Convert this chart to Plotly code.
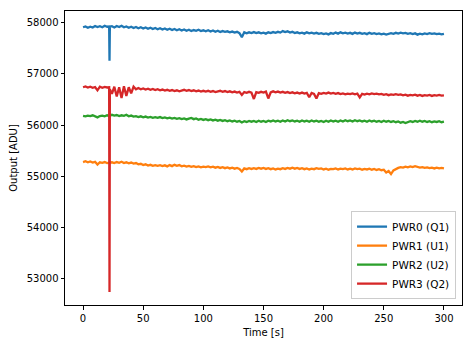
import plotly.graph_objects as go

# Sample times [s]: 2 s cadence, with extra samples around the glitch at 22 s
time_s = list(range(0, 21, 2)) + [21.7, 22.0, 22.3] + list(range(24, 301, 2))

pwr0_q1 = [
    57915, 57930, 57905, 57925, 57910, 57940, 57920, 57935, 57915, 57945, 57925,
    57930, 57260, 57925,
    57935, 57910, 57940, 57920, 57945, 57915, 57930, 57905, 57925, 57900, 57920, 57895, 57915, 57890, 57910, 57885, 57905, 57880, 57900,
    57875, 57895, 57870, 57890, 57865, 57885, 57860, 57880, 57855, 57875, 57850, 57870, 57845, 57865, 57840, 57860, 57845, 57865, 57840, 57855,
    57835, 57855, 57830, 57850, 57825, 57845, 57820, 57840, 57825, 57835, 57815, 57830, 57810, 57825, 57800, 57720, 57815, 57795, 57815, 57800,
    57820, 57800, 57815, 57795, 57810, 57790, 57815, 57800, 57820, 57805, 57825, 57810, 57840, 57820, 57835, 57810, 57825, 57800, 57815, 57795,
    57810, 57790, 57815, 57795, 57810, 57790, 57805, 57785, 57800, 57780, 57795, 57775, 57800, 57785, 57810, 57790, 57815, 57795, 57810, 57790,
    57805, 57785, 57810, 57790, 57805, 57785, 57800, 57780, 57805, 57785, 57800, 57780, 57795, 57775, 57790, 57770, 57785, 57800, 57785, 57805,
    57790, 57810, 57795, 57805, 57785, 57800, 57780, 57795, 57770, 57790, 57775, 57795, 57780, 57800, 57785, 57795, 57780, 57790, 57775, 57785,
]

pwr1_u1 = [
    55275, 55290, 55270, 55285, 55265, 55280, 55225, 55270, 55260, 55275, 55255,
    55265, 55270, 55260,
    55270, 55255, 55275, 55260, 55280, 55255, 55270, 55250, 55265, 55245, 55255, 55230, 55240, 55215, 55230, 55205, 55220, 55200, 55215,
    55200, 55215, 55195, 55210, 55190, 55215, 55195, 55220, 55200, 55215, 55190, 55205, 55185, 55200, 55180, 55195, 55175, 55190, 55170, 55185,
    55175, 55190, 55170, 55185, 55165, 55180, 55160, 55175, 55155, 55170, 55150, 55165, 55145, 55160, 55140, 55090, 55150, 55135, 55155, 55140,
    55155, 55140, 55160, 55145, 55160, 55140, 55155, 55135, 55150, 55130, 55145, 55135, 55155, 55140, 55160, 55145, 55165, 55145, 55160, 55140,
    55155, 55135, 55150, 55130, 55145, 55135, 55155, 55140, 55150, 55130, 55145, 55125, 55140, 55135, 55150, 55130, 55145, 55135, 55150, 55130,
    55145, 55130, 55150, 55135, 55145, 55125, 55140, 55130, 55145, 55125, 55140, 55120, 55135, 55115, 55125, 55070, 55100, 55040, 55110, 55140,
    55160, 55175, 55165, 55185, 55170, 55190, 55175, 55195, 55180, 55165, 55175, 55160, 55170, 55155, 55165, 55150, 55165, 55150, 55160, 55150,
]

pwr2_u2 = [
    56180, 56170, 56185, 56175, 56190, 56165, 56150, 56175, 56185, 56170, 56190,
    56180, 56195, 56185,
    56200, 56185, 56195, 56175, 56190, 56180, 56200, 56170, 56185, 56165, 56175, 56155, 56170, 56150, 56165, 56145, 56160, 56140, 56155,
    56140, 56155, 56135, 56150, 56130, 56145, 56125, 56140, 56120, 56135, 56115, 56130, 56110, 56125, 56140, 56115, 56130, 56105, 56120, 56100,
    56115, 56095, 56110, 56090, 56105, 56085, 56100, 56080, 56095, 56075, 56090, 56070, 56085, 56065, 56080, 56050, 56075, 56060, 56080, 56065,
    56080, 56060, 56085, 56065, 56080, 56060, 56085, 56070, 56090, 56070, 56085, 56065, 56090, 56070, 56095, 56075, 56090, 56070, 56085, 56065,
    56090, 56070, 56085, 56065, 56090, 56070, 56085, 56065, 56080, 56060, 56085, 56065, 56090, 56070, 56085, 56065, 56090, 56070, 56095, 56075,
    56090, 56070, 56095, 56075, 56090, 56070, 56085, 56065, 56090, 56070, 56085, 56065, 56080, 56060, 56085, 56065, 56080, 56060, 56075, 56055,
    56070, 56045, 56060, 56040, 56055, 56075, 56060, 56080, 56065, 56085, 56065, 56080, 56060, 56075, 56055, 56070, 56060, 56075, 56055, 56065,
]

pwr3_q2 = [
    56740, 56755, 56735, 56750, 56730, 56745, 56680, 56750, 56730, 56745, 56735,
    56740, 52730, 56700,
    56610, 56750, 56560, 56740, 56530, 56760, 56570, 56740, 56620, 56750, 56700, 56725, 56700, 56715, 56695, 56710, 56690, 56705, 56685,
    56700, 56680, 56695, 56675, 56690, 56670, 56685, 56665, 56680, 56660, 56675, 56690, 56670, 56685, 56665, 56680, 56660, 56675, 56655, 56670,
    56655, 56670, 56650, 56665, 56645, 56660, 56670, 56650, 56665, 56645, 56660, 56640, 56655, 56635, 56650, 56590, 56645, 56630, 56650, 56635,
    56510, 56645, 56630, 56650, 56635, 56655, 56520, 56640, 56660, 56640, 56655, 56635, 56650, 56630, 56645, 56625, 56640, 56620, 56635, 56615,
    56635, 56615, 56630, 56545, 56630, 56610, 56520, 56625, 56610, 56630, 56615, 56635, 56615, 56630, 56610, 56625, 56605, 56620, 56600, 56615,
    56605, 56620, 56600, 56615, 56540, 56610, 56595, 56615, 56600, 56620, 56605, 56615, 56600, 56610, 56590, 56605, 56585, 56600, 56590, 56605,
    56590, 56600, 56580, 56595, 56575, 56590, 56580, 56595, 56575, 56590, 56570, 56585, 56575, 56590, 56570, 56585, 56575, 56590, 56575, 56580,
]

series_names = ["PWR0 (Q1)", "PWR1 (U1)", "PWR2 (U2)", "PWR3 (Q2)"]
series_values = [pwr0_q1, pwr1_u1, pwr2_u2, pwr3_q2]
colors = ["#1f77b4", "#ff7f0e", "#2ca02c", "#d62728"]

x_ticks = [0, 50, 100, 150, 200, 250, 300]
y_ticks = [53000, 54000, 55000, 56000, 57000, 58000]

fig = go.Figure()
for name, vals, col in zip(series_names, series_values, colors):
    fig.add_trace(go.Scatter(
        x=time_s, y=vals, mode="lines", name=name,
        line=dict(color=col, width=2.3),
    ))

axis_common = dict(
    showline=True, linecolor="black", linewidth=1, mirror=True,
    ticks="outside", ticklen=3.5, tickwidth=0.8, tickcolor="black",
    showgrid=False, zeroline=False,
    tickfont=dict(size=10, color="black"),
    tickformat="d",
)

fig.update_layout(
    width=473, height=347,
    margin=dict(l=65, r=10, t=11, b=40),
    paper_bgcolor="white", plot_bgcolor="white",
    font=dict(family="DejaVu Sans", size=10, color="black"),
    xaxis=dict(range=[-15, 315], tickvals=x_ticks,
               title=dict(text="Time [s]", font=dict(size=10), standoff=6),
               **axis_common),
    yaxis=dict(range=[52475, 58233], tickvals=y_ticks,
               title=dict(text="Output [ADU]", font=dict(size=10), standoff=7),
               **axis_common),
    legend=dict(
        x=0.985, y=0.02, xanchor="right", yanchor="bottom",
        bgcolor="rgba(255,255,255,0.8)", bordercolor="#cccccc", borderwidth=1,
        font=dict(size=10.5), itemwidth=30, tracegroupgap=0,
    ),
    showlegend=True,
)

fig.write_html("out.html")
